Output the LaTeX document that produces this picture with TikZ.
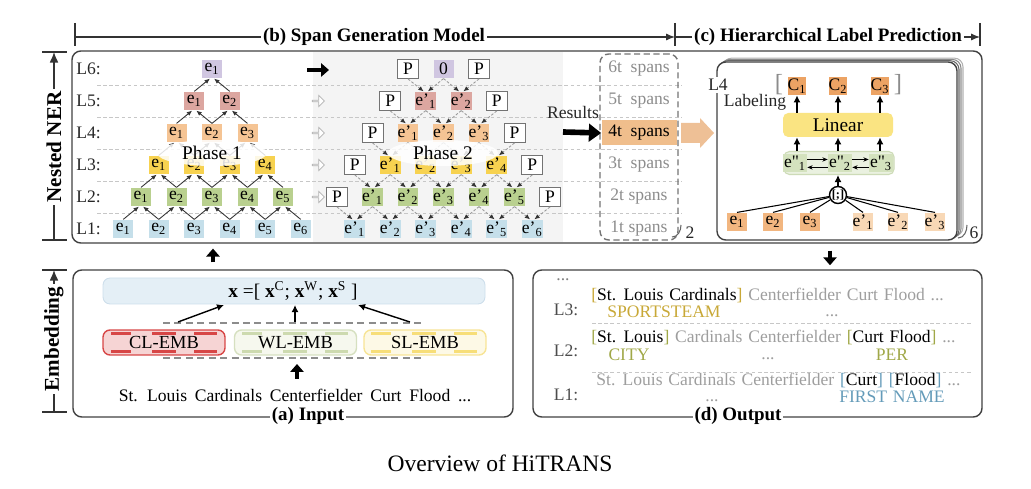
\documentclass[tikz,border=0pt]{standalone}
\usepackage{fontspec}
\setmainfont{Liberation Serif}
\usetikzlibrary{arrows.meta,positioning,fit,shapes.geometric,shapes.arrows}

\newcommand\outfont{\fontsize{10}{12}\selectfont\spaceskip 3.3pt\relax}
\newcommand\sentfont{\fontsize{10}{12}\selectfont\spaceskip 4.4pt\relax}

\definecolor{lvA}{RGB}{197,223,234}
\definecolor{lvB}{RGB}{185,208,143}
\definecolor{lvC}{RGB}{247,210,80}
\definecolor{lvD}{RGB}{245,196,148}
\definecolor{lvE}{RGB}{220,166,160}
\definecolor{lvF}{RGB}{208,198,225}
\definecolor{phbg}{RGB}{244,244,244}
\definecolor{spanor}{RGB}{240,190,140}
\definecolor{blkor}{RGB}{238,192,150}
\definecolor{cor}{RGB}{236,163,100}
\definecolor{eor}{RGB}{242,182,128}
\definecolor{epor}{RGB}{248,216,182}
\definecolor{linyel}{RGB}{250,228,130}
\definecolor{rowgr}{RGB}{234,241,224}
\definecolor{rowgrd}{RGB}{205,219,183}
\definecolor{cellgr}{RGB}{212,226,190}
\definecolor{barbl}{RGB}{228,239,246}
\definecolor{barbld}{RGB}{205,222,235}
\definecolor{clred}{RGB}{215,70,70}
\definecolor{clfill}{RGB}{246,212,212}
\definecolor{wlgr}{RGB}{214,224,192}
\definecolor{wlfill}{RGB}{246,248,238}
\definecolor{wlseg}{RGB}{205,218,175}
\definecolor{slyel}{RGB}{247,228,150}
\definecolor{slfill}{RGB}{253,249,230}
\definecolor{slseg}{RGB}{247,222,120}
\definecolor{gold}{RGB}{200,168,55}
\definecolor{olive}{RGB}{160,168,72}
\definecolor{steel}{RGB}{100,155,185}

\tikzset{
  hdr/.style={font=\fontsize{10.8}{12}\selectfont\bfseries, inner sep=1pt},
  vhdr/.style={font=\fontsize{12}{13}\selectfont\bfseries, rotate=90, inner sep=1.5pt},
  frame/.style={draw=black!75, line width=0.8pt, rounded corners=5pt, inner sep=0pt},
  rtick/.style={draw=black!80, line width=0.7pt},
  lvl/.style={font=\fontsize{10}{11}\selectfont, text=black!85, inner sep=0pt},
  ebox/.style={fill=#1, minimum width=0.4cm, minimum height=0.37cm, inner sep=0pt, font=\fontsize{10}{11}\selectfont},
  pbox/.style={draw=black!55, line width=0.5pt, fill=white, minimum width=0.42cm, minimum height=0.38cm, inner sep=0pt, font=\fontsize{10}{11}\selectfont},
  upar/.style={draw=black!80, line width=0.5pt, -{Latex[length=3pt,width=2.6pt]}},
  dnar/.style={draw=black!40, line width=0.5pt, dash pattern=on 1.5pt off 1pt, -{Latex[length=3pt,width=2.6pt,color=black!80]}},
  uparb/.style={draw=black, line width=0.8pt, -{Latex[length=4pt,width=4pt]}},
  fat/.style={draw=black, line width=2.3pt, -{Triangle[length=4.5pt,width=7.5pt]}},
  sepline/.style={draw=black!22, line width=0.5pt, dash pattern=on 2pt off 1.5pt},
  phase/.style={ellipse, fill=white, fill opacity=0.85, text opacity=1, minimum width=2.2cm, minimum height=0.52cm, inner sep=0pt, font=\fontsize{11}{12}\selectfont},
  hol/.style={single arrow, draw=black!30, fill=white, minimum height=0.24cm, minimum width=0.22cm, single arrow head extend=0.05cm, inner sep=0pt},
  spantxt/.style={font=\fontsize{10}{11}\selectfont, text=black!45, minimum width=1.5cm, minimum height=0.5cm, inner sep=0pt},
  cbox/.style={fill=cor, minimum width=0.36cm, minimum height=0.36cm, inner sep=0pt, font=\fontsize{10}{11}\selectfont},
  emb/.style 2 args={draw=#1, fill=#2, line width=0.8pt, rounded corners=4pt, minimum width=2.44cm, minimum height=0.5cm, inner sep=0pt, font=\fontsize{10.5}{12}\selectfont},
  otxt/.style={font=\outfont, inner sep=0pt},
}

\begin{document}
\begin{tikzpicture}[x=0.02cm, y=-0.02cm]
\useasboundingbox (0,0) rectangle (1031,489);

% rulers
\coordinate (t0) at (75,37);
\coordinate (t1) at (675,37);
\coordinate (t2) at (980,37);
\foreach \x in {75,675,980} \draw[rtick] (\x,23) -- (\x,46);
\node[hdr] (bh) at (374,37) {(b) Span Generation Model};
\node[hdr] (ch) at (828,37) {(c) Hierarchical Label Prediction};
\draw[rtick] (bh) -- (t0);
\draw[rtick, -{Latex[length=5pt,width=4pt]}] (bh) -- (t1);
\draw[rtick] (ch) -- (t1);
\draw[rtick, -{Latex[length=5pt,width=4pt]}] (ch) -- (t2);

\coordinate (n0) at (54,52);
\coordinate (n1) at (54,240);
\coordinate (m0) at (54,270);
\coordinate (m1) at (54,412);
\foreach \y in {52,240,270,412} \draw[rtick] (42,\y) -- (67,\y);
\node[vhdr] (nerl) at (54,147) {Nested NER};
\node[vhdr] (embl) at (54,339) {Embedding};
\draw[rtick, -{Latex[length=6pt,width=5pt]}] (nerl) -- (n0);
\draw[rtick] (nerl) -- (n1);
\draw[rtick, -{Latex[length=6pt,width=5pt]}] (embl) -- (m0);
\draw[rtick] (embl) -- (m1);

% (b) span generation
\fill[phbg] (313,52) rectangle (563,242);
\node[frame, fit={(72,51) (982,243)}] (ner) {};
\foreach \y in {85,117,149,181,213} \draw[sepline] (97,\y) -- (682,\y);
\foreach \k in {1,...,6} \node[lvl, anchor=west] (lab\k) at (76,{229-(\k-1)*32}) {L\k:};

\foreach \k/\cl in {1/lvA,2/lvB,3/lvC,4/lvD,5/lvE,6/lvF}{
  \pgfmathtruncatemacro{\nn}{7-\k}
  \foreach \i in {1,...,\nn}
    \node[ebox=\cl] (a\k-\i) at ({212+(\i-(8-\k)/2)*35.5},{229-(\k-1)*32}) {e\textsubscript{\i}};
}
\foreach \k in {2,...,6}{
  \pgfmathtruncatemacro{\nn}{7-\k}
  \pgfmathtruncatemacro{\mm}{\k-1}
  \foreach \i in {1,...,\nn}{
    \pgfmathtruncatemacro{\jj}{\i+1}
    \draw[upar] (a\mm-\i.north) -- ([xshift=-1.2pt]a\k-\i.south);
    \draw[upar] (a\mm-\jj.north) -- ([xshift=1.2pt]a\k-\i.south);
  }
}

\foreach \k/\cl in {1/lvA,2/lvB,3/lvC,4/lvD,5/lvE}{
  \pgfmathtruncatemacro{\nn}{7-\k}
  \foreach \i in {1,...,\nn}
    \node[ebox=\cl] (b\k-\i) at ({443.5+(\i-(8-\k)/2)*35.5},{229-(\k-1)*32}) {e'\textsubscript{\i}};
}
\node[ebox=lvF] (b6-1) at (443.5,69) {0};
\foreach \k in {2,...,6}{
  \pgfmathtruncatemacro{\rr}{8-\k}
  \node[pbox] (b\k-0) at ({443.5-(8-\k)/2*35.5},{229-(\k-1)*32}) {P};
  \node[pbox] (b\k-\rr) at ({443.5+(8-\k)/2*35.5},{229-(\k-1)*32}) {P};
}
\foreach \k in {1,...,5}{
  \pgfmathtruncatemacro{\nn}{7-\k}
  \pgfmathtruncatemacro{\pp}{\k+1}
  \foreach \i in {1,...,\nn}{
    \pgfmathtruncatemacro{\hh}{\i-1}
    \draw[dnar] (b\pp-\hh.south) -- ([xshift=-1.2pt]b\k-\i.north);
    \draw[dnar] (b\pp-\i.south) -- ([xshift=1.2pt]b\k-\i.north);
  }
}

\node[phase] (ph1) at (212,153) {Phase 1};
\node[phase] (ph2) at (443,153) {Phase 2};

\coordinate (pa) at (307,70);
\coordinate (pb) at (329,70);
\draw[fat] (pa) -- (pb);
\foreach \k in {2,...,5} \node[hol] (ho\k) at (318,{229-(\k-1)*32}) {};

% spans
\node[lvl] (res) at (573,112) {Results};
\node[spantxt] (s6) at (639,69) {6t~~spans};
\node[spantxt] (s5) at (639,101) {5t~~spans};
\node[spantxt, fill=spanor, text=black, minimum width=1.5cm] (s4) at (639,133) {4t~~spans};
\node[spantxt] (s3) at (639,165) {3t~~spans};
\node[spantxt] (s2) at (639,197) {2t spans};
\node[spantxt] (s1) at (639,229) {1t spans};
\node[draw=black!55, line width=0.8pt, dash pattern=on 3.5pt off 2pt, rounded corners=5pt, inner sep=0pt, fit={(600,54) (678,240)}] (spf) {};
\coordinate (ra) at (563,132);
\draw[fat, line width=3.2pt, -{Triangle[length=7pt,width=10pt]}] (ra) -- (s4.west);
\node[lvl] (two) at (690,233) {2};
\draw[black!60, line width=0.6pt] (681,225) to[out=-90,in=0] (672,237);

\fill[blkor] (681,123) -- (700,123) -- (700,118) -- (714,133) -- (700,148) -- (700,143) -- (681,143) -- cycle;

% (c) label prediction
\foreach \d/\g in {3/30,2/45,1/60}
  \draw[black!\g, line width=0.6pt, rounded corners=5pt, fill=white] ({717+2*\d},{62-1.3*\d}) rectangle ({957+2*\d},{240-1.3*\d});
\node[frame, fill=white, fit={(717,62) (957,240)}] (card) {};
\node[lvl] (six) at (974,233) {6};
\draw[black!60, line width=0.6pt] (967,225) to[out=-90,in=0] (958,238);
\node[lvl, fill=white, inner sep=1pt] (l4) at (718,85) {L4};

\node[font=\fontsize{14}{14}\selectfont, text=black!45] (lbr) at (779,85) {[};
\node[font=\fontsize{14}{14}\selectfont, text=black!45] (rbr) at (898,85) {]};
\node[cbox] (c1) at (797,86) {C\textsubscript{1}};
\node[cbox] (c2) at (838,86) {C\textsubscript{2}};
\node[cbox] (c3) at (880,86) {C\textsubscript{3}};
\node[lvl] (labg) at (755,102) {Labeling};
\node[fill=linyel, rounded corners=3pt, minimum width=2.2cm, minimum height=0.48cm, inner sep=0pt, font=\fontsize{11}{12}\selectfont] (lin) at (838,125) {Linear};
\foreach \i in {1,2,3} \draw[uparb] (lin.north -| c\i) -- (c\i.south);

\node[fill=rowgr, draw=rowgrd, line width=0.6pt, rounded corners=3pt, minimum width=2.2cm, minimum height=0.46cm, inner sep=0pt] (epp) at (839,163) {};
\node[ebox=cellgr, minimum width=0.48cm] (ep1) at (795,163) {e\textquotedbl\textsubscript{1}};
\node[ebox=cellgr, minimum width=0.48cm] (ep2) at (840,163) {e\textquotedbl\textsubscript{2}};
\node[ebox=cellgr, minimum width=0.48cm] (ep3) at (881,163) {e\textquotedbl\textsubscript{3}};
\foreach \a/\b in {ep1/ep2,ep2/ep3}{
  \draw[line width=0.5pt, -{Stealth[length=3pt,width=2.5pt]}] ([yshift=2pt]\a.east) -- ([yshift=2pt]\b.west);
  \draw[line width=0.5pt, -{Stealth[length=3pt,width=2.5pt]}] ([yshift=-2.5pt]\b.west) -- ([yshift=-2.5pt]\a.east);
}
\foreach \i in {1,2,3} \draw[uparb] (epp.north -| c\i) -- (lin.south -| c\i);

\node[circle, draw, line width=0.8pt, fill=white, minimum size=0.34cm, inner sep=0pt, font=\fontsize{7}{7}\selectfont\bfseries] (cc) at (838,195) {[;]};
\draw[uparb] (cc.north) -- (epp.south -| cc);
\node[ebox=eor] (f1) at (737,222) {e\textsubscript{1}};
\node[ebox=eor] (f2) at (773,222) {e\textsubscript{2}};
\node[ebox=eor] (f3) at (810,222) {e\textsubscript{3}};
\node[ebox=epor] (g1) at (863,222) {e'\textsubscript{1}};
\node[ebox=epor] (g2) at (898,222) {e'\textsubscript{2}};
\node[ebox=epor] (g3) at (935,222) {e'\textsubscript{3}};
\foreach \i in {1,2,3}{
  \draw[line width=0.6pt] (f\i.north) -- (cc);
  \draw[line width=0.6pt] (g\i.north) -- (cc);
}

% links between panels
\coordinate (ux) at (213,0);
\coordinate (dx) at (830,0);

% (a) input
\node[frame, fit={(73,270) (513,417)}] (inp) {};
\node[hdr, fill=white] (inpt) at (308,416) {(a) Input};
\node[fill=barbl, draw=barbld, line width=0.5pt, rounded corners=4pt, inner sep=0pt, fit={(103,278) (485,304)}] (xbar) {};
\node[font=\fontsize{11}{12}\selectfont] (xf) at (293,291) {\textbf{x} =[ \textbf{x}\textsuperscript{C}; \textbf{x}\textsuperscript{W}; \textbf{x}\textsuperscript{S} ]};
\node[emb={clred}{clfill}] (cl) at (164,342.5) {CL-EMB};
\node[emb={wlgr}{wlfill}] (wl) at (295.5,342.5) {WL-EMB};
\node[emb={slyel}{slfill}] (sl) at (425,342.5) {SL-EMB};
\foreach \xl/\cl in {103/clred,234/wlseg,363/slseg}
  \foreach \a/\b in {8/28,49/73,91/114}{
    \draw[\cl, line width=1.4pt] ({\xl+\a},333.5) -- ({\xl+\b},333.5);
    \draw[\cl, line width=1.4pt] ({\xl+\a},351.5) -- ({\xl+\b},351.5);
  }
\draw[black!45, line width=1pt, dash pattern=on 4pt off 2.5pt] (163,323) -- (425,323);
\draw[black!45, line width=1pt, dash pattern=on 4pt off 2.5pt] (163,358) -- (425,358);
\coordinate (cla) at (178,322);
\coordinate (clb) at (224,305);
\coordinate (wla) at (295,322);
\coordinate (wlb) at (295,305);
\coordinate (sla) at (410,322);
\coordinate (slb) at (358,305);
\draw[uparb] (cla) -- (clb);
\draw[uparb] (wla) -- (wlb);
\draw[uparb] (sla) -- (slb);
\node[inner sep=0pt, font=\sentfont] (sent) at (295,395) {St. Louis Cardinals Centerfielder Curt Flood ...};
\coordinate (sa) at (297,379);
\coordinate (sb) at (297,364);
\draw[fat] (sa) -- (sb);

% (d) output
\node[frame, fit={(533,270) (982,417)}] (out) {};
\node[hdr, fill=white] (outt) at (738,416) {(d) Output};
\draw[sepline] (592,323) -- (973,323);
\draw[sepline] (592,372) -- (973,372);
\node[lvl, text=black!50] (dd) at (563,280) {...};
\node[lvl, text=black!70] (d3) at (566,310) {L3:};
\node[lvl, text=black!70] (d2) at (566,351) {L2:};
\node[lvl, text=black!70] (d1) at (566,395) {L1:};
\node[otxt, anchor=west] (d3a) at (591,295) {\textcolor{gold}{[}St. Louis Cardinals\textcolor{gold}{]} \textcolor{black!38}{Centerfielder Curt Flood ...}};
\node[otxt, text=gold] (d3b) at (664,312) {SPORTSTEAM};
\node[otxt, text=black!38] (d3c) at (832,316) {...};
\node[otxt, anchor=west] (d2a) at (591,337) {\textcolor{olive}{[}St. Louis\textcolor{olive}{]} \textcolor{black!38}{Cardinals Centerfielder} \textcolor{olive}{[}Curt Flood\textcolor{olive}{]} \textcolor{black!38}{...}};
\node[otxt, text=olive] (d2b) at (629,355) {CITY};
\node[otxt, text=black!38] (d2c) at (768,359) {...};
\node[otxt, text=olive] (d2d) at (892,355) {PER};
\node[otxt, anchor=west] (d1a) at (596,380) {\textcolor{black!38}{St. Louis Cardinals Centerfielder} \textcolor{steel}{[}Curt\textcolor{steel}{]} \textcolor{steel}{[}Flood\textcolor{steel}{]} \textcolor{black!38}{...}};
\node[otxt, text=black!38] (d1b) at (712,401) {...};
\node[otxt, text=steel] (d1c) at (892,397) {FIRST NAME};

\draw[fat, shorten <=4pt, shorten >=2.8pt] (inp.north -| ux) -- (ner.south -| ux);
\draw[fat, shorten <=4pt, shorten >=2.3pt] (ner.south -| dx) -- (out.north -| dx);

\node[font=\fontsize{13.4}{15}\selectfont] (cap) at (500,463) {Overview of HiTRANS};
\end{tikzpicture}
\end{document}
